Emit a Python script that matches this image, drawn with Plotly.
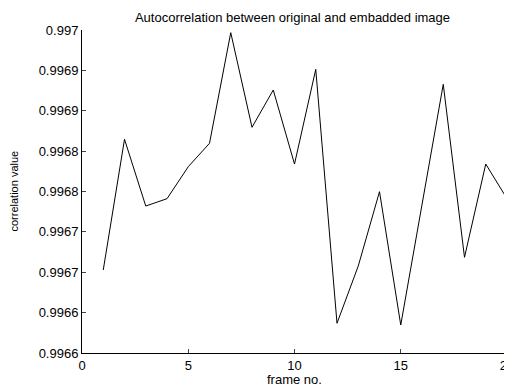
import plotly.graph_objects as go

frames = list(range(1, 21))
corr = [0.9967028, 0.9968647, 0.9967820, 0.9967911, 0.9968307, 0.9968597,
        0.9969967, 0.9968795, 0.9969257, 0.9968340, 0.9969513, 0.9966368,
        0.9967077, 0.9967998, 0.9966347, 0.9967840, 0.9969327, 0.9967185,
        0.9968340, 0.9967911]

y_tickvals = [0.99660, 0.99665, 0.99670, 0.99675, 0.99680, 0.99685, 0.99690, 0.99695, 0.99700]
y_ticktext = ["0.9966", "0.9966", "0.9967", "0.9967", "0.9968", "0.9968", "0.9969", "0.9969", "0.997"]
x_tickvals = [0, 5, 10, 15, 20]

font = "Liberation Sans, Arial, sans-serif"

fig = go.Figure(go.Scatter(x=frames, y=corr, mode="lines",
                           line=dict(color="black", width=1)))

# page body has an 8px default margin, so the figure is sized to fit the 512x387 window
fig.update_layout(
    width=504, height=379,
    margin=dict(l=74, r=5, t=22, b=34, autoexpand=False),
    paper_bgcolor="white", plot_bgcolor="white",
    showlegend=False,
    font=dict(family=font, size=13, color="black"),
    title=dict(text="Autocorrelation between original and embadded image",
               x=0.5645, xanchor="center", yref="container", y=0.9763, yanchor="middle",
               automargin=False,
               font=dict(family=font, size=13, color="black")),
    annotations=[
        dict(text="frame no.", xref="paper", yref="paper", x=0.5, y=0,
             xanchor="center", yanchor="middle", yshift=-26, showarrow=False,
             font=dict(family=font, size=13, color="black")),
        dict(text="correlation value", xref="paper", yref="paper", x=0, y=0.5,
             xanchor="center", yanchor="middle", xshift=-69, textangle=-90,
             showarrow=False, font=dict(family=font, size=11, color="black")),
    ],
)
fig.update_xaxes(range=[0, 20], tickvals=x_tickvals, ticks="inside", ticklen=4,
                 showline=True, linecolor="black", linewidth=1, showgrid=False,
                 zeroline=False, tickfont=dict(size=13), automargin=False,
                 ticklabeloverflow="allow")
fig.update_yaxes(range=[0.9966, 0.9970], tickvals=y_tickvals, ticktext=y_ticktext,
                 ticks="inside", ticklen=4, showline=True, linecolor="black",
                 linewidth=1, showgrid=False, zeroline=False, tickfont=dict(size=13),
                 automargin=False)

fig.write_html("out.html")
